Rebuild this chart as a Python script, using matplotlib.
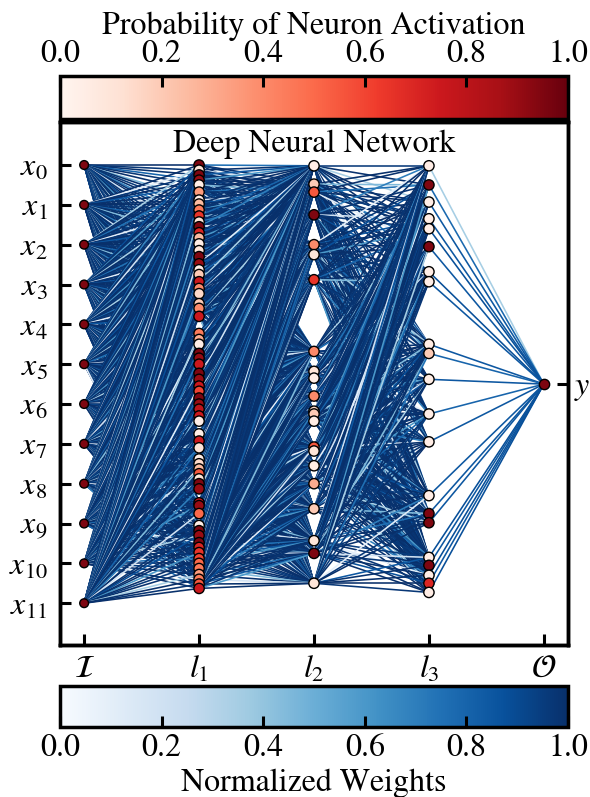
import numpy as np
import matplotlib
matplotlib.use("Agg")
import matplotlib.pyplot as plt
from matplotlib.collections import LineCollection
from matplotlib import cm, colors

plt.rcParams['font.family'] = ['STIXGeneral', 'Liberation Serif', 'DejaVu Serif']
plt.rcParams['mathtext.fontset'] = 'stix'
plt.rcParams['font.size'] = 23

# layer positions on the x axis and their labels
layer_names = [r'$\mathcal{I}$', r'$l_1$', r'$l_2$', r'$l_3$', r'$\mathcal{O}$']
input_labels = [r'$x_{%d}$' % i for i in range(12)]

# node vertical positions and activation probabilities
in_y = [0, 1, 2, 3, 4, 5, 6, 7, 8, 9, 10, 11]
in_p = [0.95] * 12

l1_y = [0.00, 0.13, 0.25, 0.38, 0.50, 0.68, 0.88, 0.98, 1.13, 1.28, 1.43, 1.55,
        1.70, 1.83, 1.98, 2.15, 2.30, 2.48, 2.63, 2.75, 2.93, 3.10, 3.23, 3.48,
        3.60, 3.80, 4.23, 4.38, 4.50, 4.73, 4.85, 5.00, 5.23, 5.38, 5.55, 5.68,
        5.85, 6.00, 6.13, 6.30, 6.43, 6.75, 6.93, 7.10, 7.38, 7.50, 7.63, 7.75,
        7.88, 8.00, 8.13, 8.48, 8.55, 8.75, 9.05, 9.18, 9.30, 9.48, 9.60, 9.73,
        9.88, 10.00, 10.13, 10.28, 10.40, 10.52, 10.63]
l1_p = [0.95, 0.10, 0.95, 0.90, 0.05, 0.35, 0.05, 0.25, 0.45, 0.65, 0.10, 0.95,
        0.70, 0.25, 0.05, 0.10, 0.95, 0.90, 0.05, 0.20, 0.75, 0.40, 0.15, 0.20,
        0.40, 0.75, 0.45, 0.30, 0.05, 0.95, 0.90, 0.75, 0.95, 0.90, 0.75, 0.60,
        0.95, 0.90, 0.80, 0.75, 0.05, 0.05, 0.75, 0.10, 0.05, 0.15, 0.25, 0.55,
        0.10, 0.95, 0.90, 0.75, 0.90, 0.50, 0.05, 0.95, 0.90, 0.95, 0.70, 0.65,
        0.60, 0.50, 0.45, 0.35, 0.45, 0.55, 0.75]

l2_y = [0.02, 0.48, 0.68, 1.25, 2.00, 2.25, 2.88, 4.68, 5.18, 5.35, 5.80, 6.18,
        6.25, 6.43, 7.08, 7.18, 7.55, 8.00, 8.63, 9.43, 9.75, 10.50]
l2_p = [0.05, 0.20, 0.55, 0.95, 0.40, 0.10, 0.65, 0.40, 0.10, 0.05, 0.40, 0.15,
        0.20, 0.05, 0.55, 0.10, 0.05, 0.30, 0.20, 0.10, 0.95, 0.10]

l3_y = [0.02, 0.50, 0.93, 1.35, 1.60, 2.05, 2.68, 2.93, 4.50, 4.73, 5.38, 6.25,
        6.95, 8.30, 8.75, 8.98, 9.85, 10.05, 10.30, 10.50, 10.73]
l3_p = [0.05, 0.95, 0.05, 0.05, 0.05, 0.95, 0.05, 0.05, 0.05, 0.20, 0.05, 0.05,
        0.05, 0.05, 0.95, 0.95, 0.05, 0.95, 0.05, 0.70, 0.05]

out_y = [5.5]
out_p = [0.95]

# sample of normalized weights, used in turn for the dense layers
weight_sample = [1.00, 0.97, 0.99, 0.80, 0.98, 1.00, 0.45, 0.99, 0.96, 1.00,
                 0.70, 0.98, 1.00, 0.20, 0.97, 0.99, 0.88, 1.00, 0.98, 0.60,
                 1.00, 0.96, 0.99, 0.35, 1.00, 0.98, 1.00, 0.75, 0.99, 0.95,
                 1.00, 0.10, 0.97, 1.00, 0.85, 0.99, 1.00]
# weights l3 -> output
out_w = [0.35, 0.78, 0.85, 0.85, 0.88, 0.85, 0.88, 0.85, 0.85, 0.80, 0.85,
         0.80, 0.85, 0.85, 0.85, 0.85, 0.88, 0.85, 0.88, 0.85, 0.88]

layers_y = [in_y, l1_y, l2_y, l3_y, out_y]
layers_p = [in_p, l1_p, l2_p, l3_p, out_p]

fig = plt.figure(figsize=(5.9, 7.97), dpi=100)
ax = fig.add_axes([0.1017, 0.1907, 0.861, 0.656])
cax_top = fig.add_axes([0.1017, 0.8507, 0.861, 0.054])
cax_bot = fig.add_axes([0.1017, 0.0878, 0.861, 0.0514])

wnorm = colors.Normalize(0, 1)
k = 0
for li in range(4):
    segs, ws = [], []
    for ya in layers_y[li]:
        for yb in layers_y[li + 1]:
            segs.append([(li, ya), (li + 1, yb)])
            if li == 3:
                ws.append(out_w[len(ws)])
            else:
                ws.append(weight_sample[k % len(weight_sample)])
                k += 1
    lc = LineCollection(segs, cmap='Blues', norm=wnorm, linewidths=1.15, zorder=1)
    lc.set_array(np.array(ws))
    ax.add_collection(lc)

for li in range(5):
    ax.scatter([li] * len(layers_y[li]), layers_y[li], c=layers_p[li], cmap='Reds',
               vmin=0, vmax=1, s=55 if li else 40, edgecolors='black',
               linewidths=1.0, zorder=3)

ax.set_xlim(-0.21, 4.21)
ax.set_ylim(12.05, -1.075)
ax.set_xticks(range(5))
ax.set_xticklabels(layer_names)
ax.set_yticks(in_y)
ax.set_yticklabels(input_labels)
ax.tick_params(direction='in', length=8, width=2.2, pad=7)
ax.tick_params(axis='y', pad=9)
for s in ax.spines.values():
    s.set_linewidth(2.5)
ax.text(0.5, 0.985, 'Deep Neural Network', transform=ax.transAxes,
        ha='center', va='top', fontsize=23)

ax2 = ax.twinx()
ax2.set_ylim(ax.get_ylim())
ax2.set_yticks(out_y)
ax2.set_yticklabels([r'$y$'])
ax2.tick_params(direction='in', length=8, width=2.2, pad=4)
for s in ax2.spines.values():
    s.set_linewidth(2.5)

cb1 = fig.colorbar(cm.ScalarMappable(norm=colors.Normalize(0, 1), cmap='Reds'),
                   cax=cax_top, orientation='horizontal')
cax_top.xaxis.set_ticks_position('top')
cax_top.xaxis.set_label_position('top')
cb1.set_ticks([0, 0.2, 0.4, 0.6, 0.8, 1.0])
cb1.set_label('Probability of Neuron Activation', labelpad=4)
cax_top.tick_params(direction='in', length=8, width=2.2, pad=5)
cb1.outline.set_linewidth(2.5)

cb2 = fig.colorbar(cm.ScalarMappable(norm=colors.Normalize(0, 1), cmap='Blues'),
                   cax=cax_bot, orientation='horizontal')
cb2.set_ticks([0, 0.2, 0.4, 0.6, 0.8, 1.0])
cb2.set_label('Normalized Weights', labelpad=4)
cax_bot.tick_params(direction='in', length=8, width=2.2, pad=5)
cb2.outline.set_linewidth(2.5)

fig.savefig('out.png', dpi=100)
